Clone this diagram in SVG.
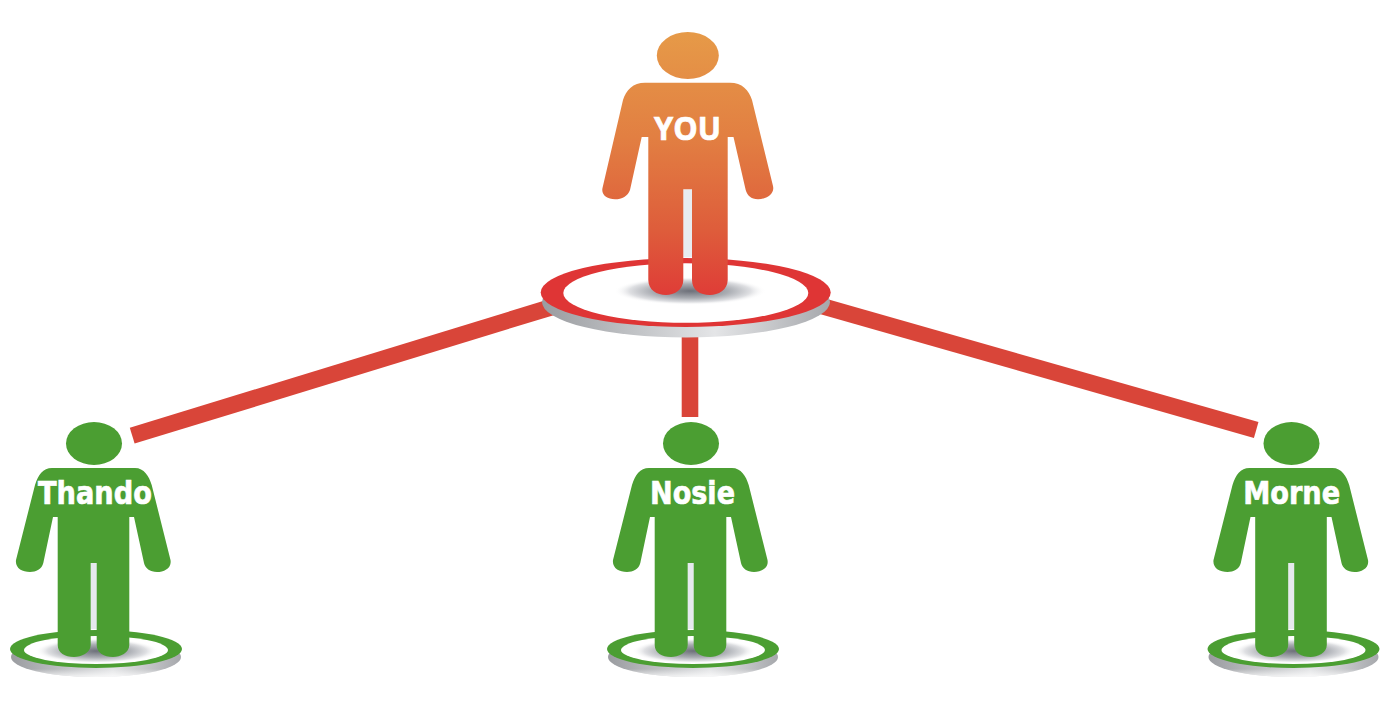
<svg xmlns="http://www.w3.org/2000/svg" width="1388" height="708" viewBox="0 0 1388 708">
<style>
.lbl{font-family:"DejaVu Sans","Liberation Sans",sans-serif;font-weight:700;fill:#fff;text-anchor:middle;stroke:#fff;stroke-width:.7}
.you{font-family:"Open Sans","Liberation Sans",sans-serif}
.green{fill:#4b9e32}
.conn{stroke:#d94539;fill:none}
</style>
<defs>
<linearGradient id="ob" gradientUnits="userSpaceOnUse" x1="0" y1="32" x2="0" y2="295"><stop offset="0" stop-color="#e69a48"/><stop offset=".4" stop-color="#e27f42"/><stop offset=".75" stop-color="#de5d3b"/><stop offset="1" stop-color="#df3c37"/></linearGradient>
<linearGradient id="edge" x1="0" y1="0" x2="1" y2="0"><stop offset="0" stop-color="#9a9ca0"/><stop offset=".35" stop-color="#c4c6c9"/><stop offset=".6" stop-color="#e4e5e7"/><stop offset="1" stop-color="#a6a8ac"/></linearGradient>
<linearGradient id="fade" x1="0" y1="0" x2="0" y2="1"><stop offset=".8" stop-color="#fff" stop-opacity="0"/><stop offset="1" stop-color="#fff" stop-opacity=".8"/></linearGradient>
<radialGradient id="sh"><stop offset="0" stop-color="#6d7079"/><stop offset=".5" stop-color="#a9acb2"/><stop offset=".8" stop-color="#dfe0e3"/><stop offset="1" stop-color="#fff" stop-opacity="0"/></radialGradient>
<g id="greenBase">
<ellipse cx="96" cy="657" rx="85" ry="20" fill="url(#edge)"/>
<ellipse cx="96" cy="657" rx="85" ry="20" fill="url(#fade)"/>
<ellipse cx="96" cy="649" rx="86" ry="19" class="green"/>
<ellipse cx="96" cy="650" rx="72" ry="14" fill="#fff"/>
<ellipse cx="97" cy="651" rx="62" ry="12.5" fill="url(#sh)"/>
<rect x="90.7" y="563" width="6" height="66" fill="#e6e9ee"/>
</g>
<path id="greenMan" class="green" d="M52 468H135C144 468 149 476 151.7 485L170.5 560C172 568 164 572 157 572C150 572 145 568 144 563L134 517H129.3V645C129.3 653 120 657 113 657C104 657 96.7 653 96.7 645V563H90.7V645C90.7 653 81 657 74 657C65 657 57.7 653 57.7 645V517H53L43.3 563C42 569 36 572 30 572C22 572 15 568 16 560L35 485C38 475 43 468 52 468Z"/>
<ellipse id="greenHead" class="green" cx="94" cy="443.5" rx="28" ry="21.5"/>
</defs>
<g id="connectors">
<line class="conn" x1="132.2" y1="435.7" x2="552" y2="307" stroke-width="16.5"/>
<line class="conn" x1="690" y1="335" x2="690" y2="417" stroke-width="16.6"/>
<line class="conn" x1="815" y1="304.1" x2="1256.2" y2="430" stroke-width="16.5"/>
</g>
<g id="you">
<ellipse cx="686" cy="302" rx="144" ry="35.5" fill="url(#edge)"/>
<ellipse cx="685.7" cy="292.5" rx="145" ry="34.5" fill="#df3535"/>
<ellipse cx="685.8" cy="293" rx="122.5" ry="29.7" fill="#fff"/>
<ellipse cx="690" cy="291" rx="76" ry="14" fill="url(#sh)"/>
<rect x="683.3" y="189.3" width="8.7" height="68" fill="#e8ecf0"/>
<ellipse cx="687.8" cy="55.5" rx="31" ry="23.5" fill="url(#ob)"/>
<path fill="url(#ob)" d="M645 82.7H730C742 82.7 749 90 752 100L773 186C775 194 766 199.3 758 199.3C751 199.3 747 195 745.7 190L733.5 137H727.7V280C727.7 290 718 295 710 295C700 295 692 290 692 280V189.3H683.3V280C683.3 290 674 295 666 295C657 295 648.3 290 648.3 280V137H641.7L630 190C628 196 622 199.3 615 199.3C607 199.3 601 195 602.5 188L623 100C626 90 633 82.7 645 82.7Z"/>
<text class="lbl you" x="687.5" y="140" font-size="33" textLength="67" lengthAdjust="spacingAndGlyphs">YOU</text>
</g>
<g id="thando">
<use href="#greenBase"/><use href="#greenHead"/><use href="#greenMan"/>
<text class="lbl" x="95" y="504" font-size="32" textLength="114" lengthAdjust="spacingAndGlyphs">Thando</text>
</g>
<g id="nosie">
<g transform="translate(597 0)"><use href="#greenBase"/><use href="#greenHead"/><use href="#greenMan"/></g>
<text class="lbl" x="692.5" y="504" font-size="32" textLength="85" lengthAdjust="spacingAndGlyphs">Nosie</text>
</g>
<g id="morne">
<g transform="translate(1197.5 0)"><use href="#greenBase"/><use href="#greenHead"/><use href="#greenMan"/></g>
<text class="lbl" x="1291.7" y="504" font-size="32" textLength="97" lengthAdjust="spacingAndGlyphs">Morne</text>
</g>
</svg>
